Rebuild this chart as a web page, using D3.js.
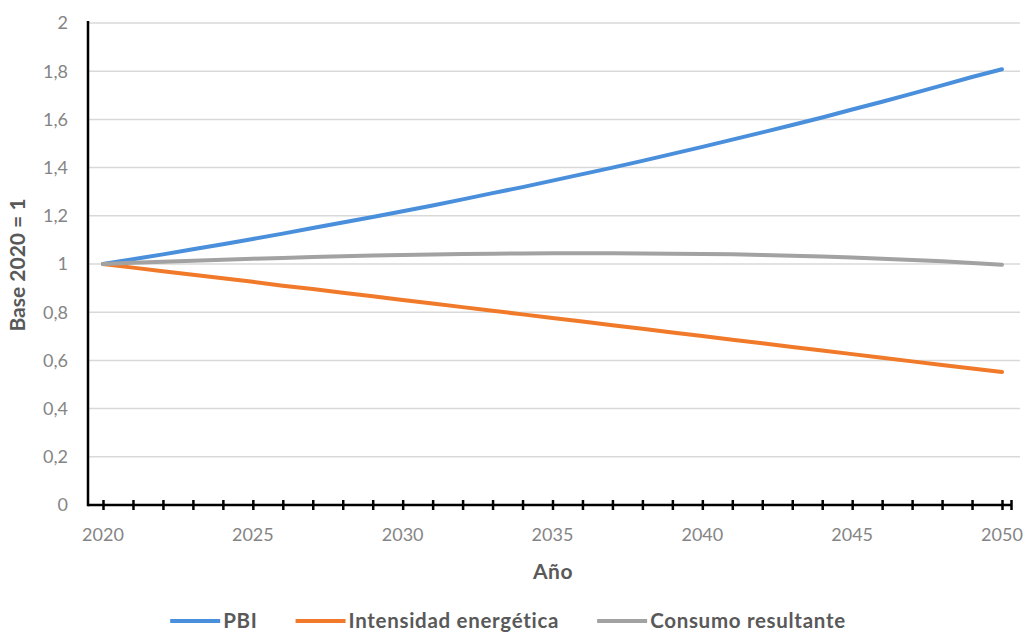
<!DOCTYPE html>
<html>
<head>
<meta charset="utf-8">
<script src="https://cdn.jsdelivr.net/npm/d3@7/dist/d3.min.js"></script>
<style>
  html, body { margin: 0; padding: 0; background: #ffffff; }
  svg { display: block; font-family: Lato, "Open Sans", sans-serif; }
</style>
</head>
<body>
<svg id="chart" width="1030" height="632"></svg>
<script>
// ---- Data ----
const years = d3.range(2020, 2051);
const pbi = [1.000, 1.020, 1.040, 1.061, 1.082, 1.104, 1.126, 1.149, 1.172, 1.195,
             1.219, 1.243, 1.268, 1.294, 1.319, 1.346, 1.373, 1.400, 1.428, 1.457,
             1.486, 1.516, 1.546, 1.577, 1.608, 1.641, 1.673, 1.707, 1.741, 1.776, 1.808];
const intensidad = [1.000, 0.985, 0.970, 0.955, 0.941, 0.926, 0.910, 0.896, 0.881, 0.866,
                    0.851, 0.836, 0.821, 0.806, 0.791, 0.776, 0.761, 0.746, 0.731, 0.716,
                    0.701, 0.686, 0.671, 0.656, 0.641, 0.626, 0.611, 0.596, 0.581, 0.566, 0.552];
const consumo = [1.000, 1.005, 1.009, 1.013, 1.018, 1.022, 1.025, 1.029, 1.032, 1.035,
                 1.037, 1.039, 1.041, 1.043, 1.044, 1.045, 1.045, 1.045, 1.044, 1.043,
                 1.042, 1.040, 1.037, 1.034, 1.031, 1.027, 1.022, 1.017, 1.011, 1.004, 0.997];
const seriesNames = ["PBI", "Intensidad energética", "Consumo resultante"];
const seriesColors = ["#4A8FDB", "#F07A2A", "#A2A2A2"];
const yTicks = [0, 0.2, 0.4, 0.6, 0.8, 1, 1.2, 1.4, 1.6, 1.8, 2];
const xLabelYears = [2020, 2025, 2030, 2035, 2040, 2045, 2050];
const xTitle = "Año";
const yTitle = "Base 2020 = 1";

const series = [pbi, intensidad, consumo].map((vals, i) => ({
  name: seriesNames[i], color: seriesColors[i],
  values: vals.map((v, j) => ({ year: years[j], v }))
}));

// ---- Layout ----
const svg = d3.select("#chart");
const axisX0 = 88, axisX1 = 1012, gridX1 = 1020;
const yTop = 23, yBottom = 505;

const x = d3.scaleLinear().domain([2020, 2050]).range([103, 1002]);
const y = d3.scaleLinear().domain([0, 2]).range([yBottom, yTop]);

const fmt = d => d3.format("")(d).replace(".", ",");

// gridlines
svg.append("g").selectAll("line").data(yTicks.filter(d => d > 0)).join("line")
  .attr("x1", axisX0).attr("x2", gridX1)
  .attr("y1", d => y(d)).attr("y2", d => y(d))
  .attr("stroke", "#d9d9d9").attr("stroke-width", 1.5);

// y tick labels
svg.append("g").selectAll("text").data(yTicks).join("text")
  .attr("x", 68).attr("y", d => y(d)).attr("dy", "0.35em")
  .attr("text-anchor", "end")
  .attr("fill", "#858585").attr("font-size", 18)
  .text(fmt);

// lines
const line = d3.line().x(d => x(d.year)).y(d => y(d.v)).curve(d3.curveLinear);
svg.append("g").selectAll("path").data(series).join("path")
  .attr("d", d => line(d.values))
  .attr("fill", "none").attr("stroke", d => d.color)
  .attr("stroke-width", 4).attr("stroke-linejoin", "round").attr("stroke-linecap", "round");

// axes
const axes = svg.append("g");
axes.append("line").attr("x1", axisX0).attr("x2", axisX0).attr("y1", yTop - 2).attr("y2", yBottom + 1.25)
  .attr("stroke", "#000").attr("stroke-width", 2.5);
axes.append("line").attr("x1", axisX0).attr("x2", axisX1).attr("y1", yBottom).attr("y2", yBottom)
  .attr("stroke", "#000").attr("stroke-width", 2.5);

const xAxis = d3.axisBottom(x).tickValues(years).tickSize(0).tickFormat("");
const gx = svg.append("g").attr("transform", `translate(0,${yBottom})`).call(xAxis);
gx.select(".domain").remove();
gx.selectAll(".tick line").attr("y1", -5).attr("y2", 5).attr("stroke", "#000").attr("stroke-width", 2.5);
// end tick
axes.append("line").attr("x1", axisX1 - 0.5).attr("x2", axisX1 - 0.5).attr("y1", yBottom - 5).attr("y2", yBottom + 5)
  .attr("stroke", "#000").attr("stroke-width", 2.5);

// x labels
svg.append("g").selectAll("text").data(xLabelYears).join("text")
  .attr("x", d => x(d)).attr("y", 535).attr("dy", "0.35em")
  .attr("text-anchor", "middle").attr("fill", "#858585").attr("font-size", 18)
  .text(d => d);

// axis titles
svg.append("text").attr("x", 553).attr("y", 572).attr("dy", "0.35em")
  .attr("text-anchor", "middle").attr("fill", "#595959")
  .attr("font-size", 21).attr("font-weight", 700).attr("letter-spacing", 0.5).text(xTitle);
svg.append("text").attr("transform", "translate(18,265) rotate(-90)")
  .attr("dy", "0.35em").attr("text-anchor", "middle").attr("fill", "#595959")
  .attr("font-size", 21).attr("font-weight", 700).text(yTitle);

// legend
const leg = svg.append("g");
const legY = 621, sw = 50, gap = 3, itemGap = 38;
const items = leg.selectAll("g").data(series).join("g");
items.append("line").attr("x1", 0).attr("x2", sw).attr("y1", 0).attr("y2", 0)
  .attr("stroke", d => d.color).attr("stroke-width", 4);
items.append("text").attr("x", sw + gap).attr("y", 0).attr("dy", "0.35em")
  .attr("fill", "#595959").attr("font-size", 20.5).attr("font-weight", 700)
  .attr("letter-spacing", 0.7)
  .text(d => d.name);
let widths = [];
items.each(function () { widths.push(this.getBBox().width); });
const total = d3.sum(widths) + itemGap * (widths.length - 1);
let cx = 508 - total / 2;
items.attr("transform", (d, i) => {
  const t = `translate(${cx},${legY})`;
  cx += widths[i] + itemGap;
  return t;
});
</script>
</body>
</html>
